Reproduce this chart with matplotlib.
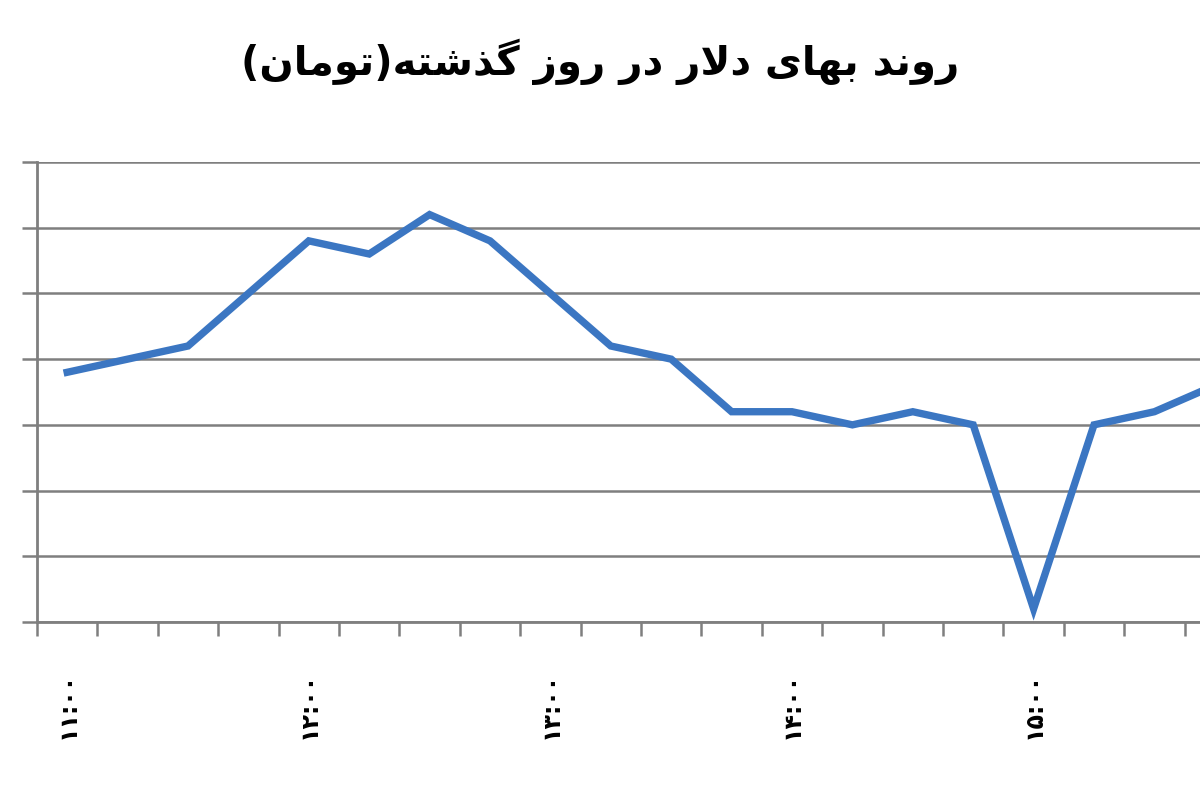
import numpy as np
import matplotlib
matplotlib.use('Agg')
from matplotlib import pyplot as plt

# price of the dollar every 15 minutes (toman)
times = ['۱۱:۰۰', '', '', '', '۱۲:۰۰', '', '', '', '۱۳:۰۰', '', '', '',
         '۱۴:۰۰', '', '', '', '۱۵:۰۰', '', '', '']
prices = [3738, 3740, 3742, 3750, 3758, 3756, 3762, 3758, 3750, 3742,
          3740, 3732, 3732, 3730, 3732, 3730, 3702, 3730, 3732, 3736]
y_ticks = [3700, 3710, 3720, 3730, 3740, 3750, 3760, 3770]
title = 'روند بهای دلار در روز گذشته(تومان)'

# matplotlib has no arabic shaping, so do it by hand with presentation forms
# (isolated, final, initial, medial)
forms = {
    'ا': ('\uFE8D', '\uFE8E', None, None),
    'ب': ('\uFE8F', '\uFE90', '\uFE91', '\uFE92'),
    'ت': ('\uFE95', '\uFE96', '\uFE97', '\uFE98'),
    'د': ('\uFEA9', '\uFEAA', None, None),
    'ذ': ('\uFEAB', '\uFEAC', None, None),
    'ر': ('\uFEAD', '\uFEAE', None, None),
    'ز': ('\uFEAF', '\uFEB0', None, None),
    'ش': ('\uFEB5', '\uFEB6', '\uFEB7', '\uFEB8'),
    'ل': ('\uFEDD', '\uFEDE', '\uFEDF', '\uFEE0'),
    'م': ('\uFEE1', '\uFEE2', '\uFEE3', '\uFEE4'),
    'ن': ('\uFEE5', '\uFEE6', '\uFEE7', '\uFEE8'),
    'ه': ('\uFEE9', '\uFEEA', '\uFEEB', '\uFEEC'),
    'و': ('\uFEED', '\uFEEE', None, None),
    'ی': ('\uFBFC', '\uFBFD', '\uFBFE', '\uFBFF'),
    'گ': ('\uFB92', '\uFB93', '\uFB94', '\uFB95'),
}


def shape(s):
    out = []
    i = 0
    while i < len(s):
        c = s[i]
        if c not in forms:
            out.append(c)
            i += 1
            continue
        prev = s[i - 1] if i > 0 else ''
        joins_prev = prev in forms and forms[prev][2] is not None
        if c == 'ل' and i + 1 < len(s) and s[i + 1] == 'ا':
            out.append('\uFEFC' if joins_prev else '\uFEFB')
            i += 2
            continue
        nxt = s[i + 1] if i + 1 < len(s) else ''
        joins_next = nxt in forms and forms[c][2] is not None
        iso, fin, ini, med = forms[c]
        if joins_prev and joins_next:
            out.append(med)
        elif joins_prev:
            out.append(fin)
        elif joins_next:
            out.append(ini)
        else:
            out.append(iso)
        i += 1
    vis = ''.join(out)[::-1]
    return vis.translate(str.maketrans('()', ')('))


fig = plt.figure(figsize=(12, 8), dpi=100)
ax = fig.add_axes([37 / 1200, 1 - 622 / 800, 1208 / 1200, 460 / 800])

x = np.arange(len(prices))
ax.plot(x, prices, color='#3b76c2', linewidth=5.3, solid_joinstyle='miter', zorder=3)

ax.set_xlim(-0.5, len(prices) - 0.5)
ax.set_ylim(y_ticks[0], y_ticks[-1])

ax.set_yticks(y_ticks)
ax.set_yticklabels([])
ax.tick_params(axis='y', length=11, width=1.8, color='#7f7f7f')
ax.grid(axis='y', color='#7f7f7f', linewidth=1.8)
ax.set_axisbelow(True)

ax.set_xticks(np.arange(-0.5, len(prices)), minor=True)
ax.tick_params(axis='x', which='minor', length=10, width=1.8, color='#7f7f7f')
ax.set_xticks(x)
ax.set_xticklabels(times, rotation=90, fontsize=17, fontweight='bold',
                   family=['DejaVu Sans'])
ax.tick_params(axis='x', which='major', length=0, pad=36)

for side in ['top', 'right']:
    ax.spines[side].set_visible(False)
for side in ['left', 'bottom']:
    ax.spines[side].set_color('#7f7f7f')
    ax.spines[side].set_linewidth(2)

fig.text(0.5, 1 - 62 / 800, shape(title), ha='center', va='center',
         fontsize=29, fontweight='bold', family=['DejaVu Sans'])

fig.savefig('out.png', dpi=100)
